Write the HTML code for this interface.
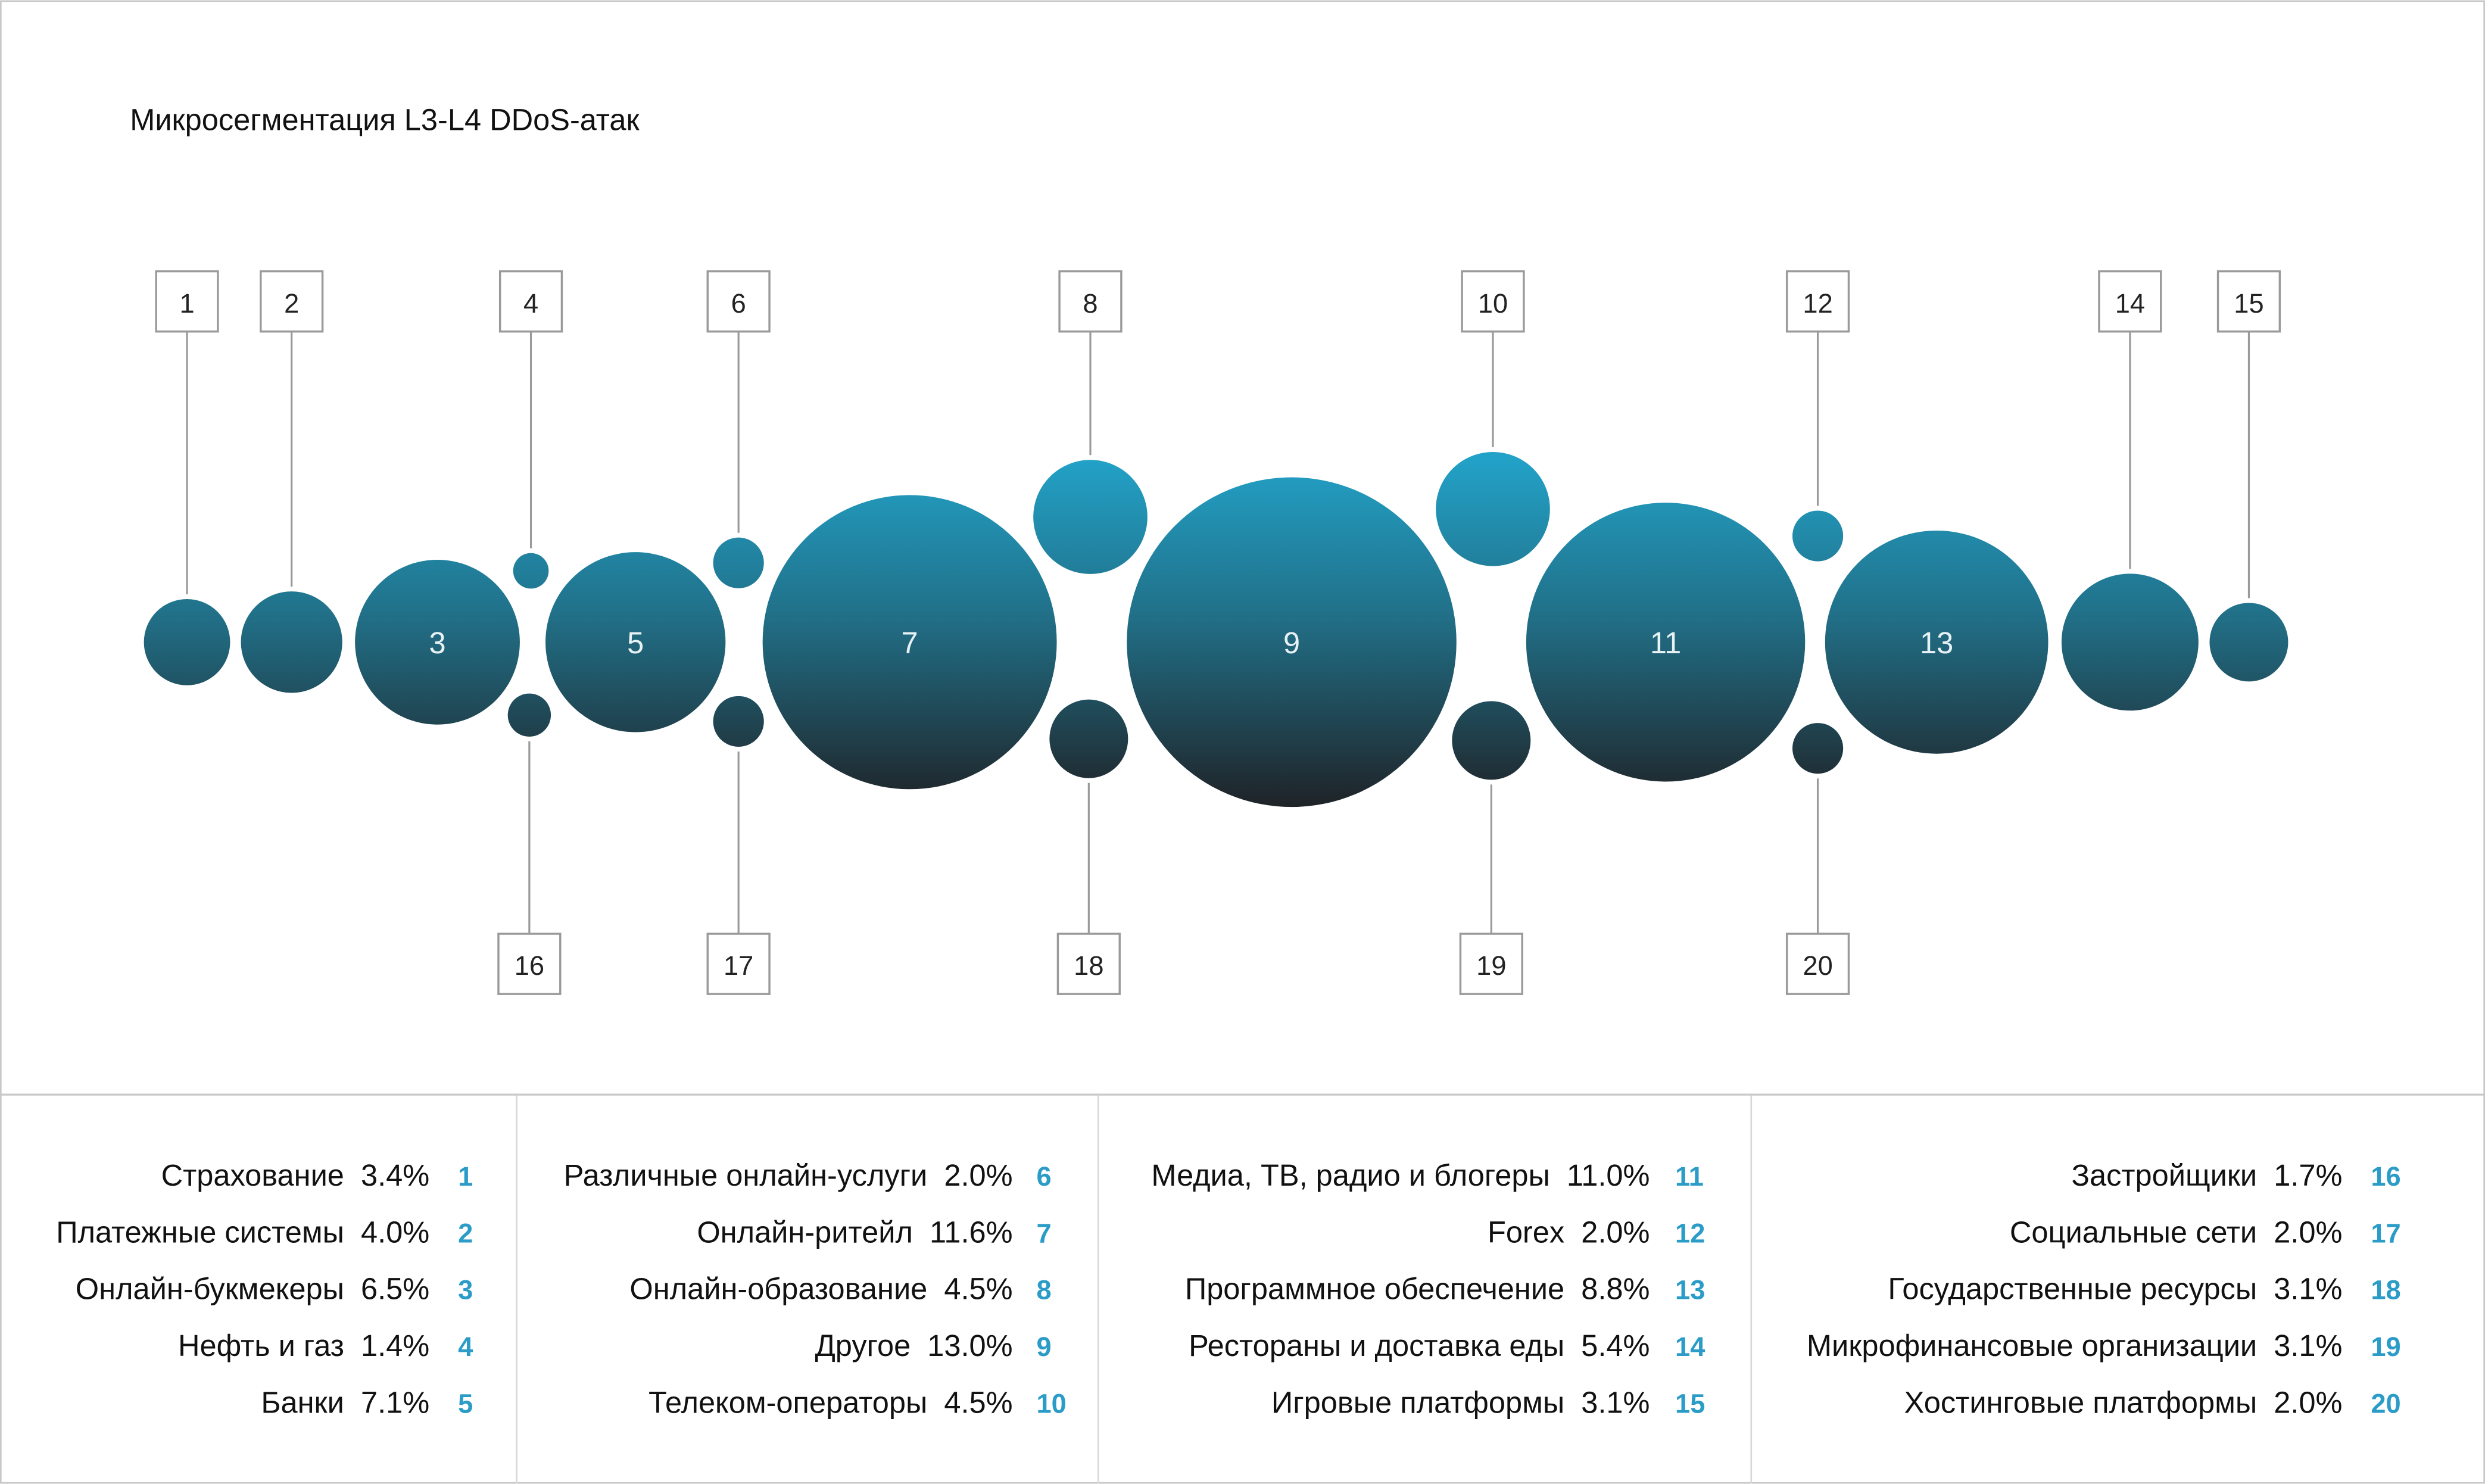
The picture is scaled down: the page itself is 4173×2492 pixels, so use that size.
<!DOCTYPE html>
<html><head><meta charset="utf-8"><style>
html,body{margin:0;padding:0;background:#fff}
svg{display:block}
text{font-family:"Liberation Sans",sans-serif}
</style></head><body>
<svg id="chart" width="4173" height="2492" viewBox="0 0 1568 936" xmlns="http://www.w3.org/2000/svg">
<defs>
<linearGradient id="bg" gradientUnits="userSpaceOnUse" x1="0" y1="288" x2="0" y2="510">
<stop offset="0" stop-color="#22a2c8"/>
<stop offset="0.45" stop-color="#217088"/>
<stop offset="1" stop-color="#1f2226"/>
</linearGradient>
</defs>
<rect x="0.5" y="0.5" width="1567" height="935" fill="#fff" stroke="#c8c8c8" stroke-width="1"/>
<line x1="0" y1="690.5" x2="1568" y2="690.5" stroke="#c8c8c8" stroke-width="1.2"/>
<line x1="326" y1="691" x2="326" y2="936" stroke="#d8d8d8"/>
<line x1="693" y1="691" x2="693" y2="936" stroke="#d8d8d8"/>
<line x1="1105" y1="691" x2="1105" y2="936" stroke="#d8d8d8"/>
<text x="82" y="82" font-size="19" fill="#111">Микросегментация L3-L4 DDoS-атак</text>
<g id="marks"></g>
<g id="legend"></g>
</svg>
<script>
const ids = [1,2,3,4,5,6,7,8,9,10,11,12,13,14,15,16,17,18,19,20];
const names = ["Страхование","Платежные системы","Онлайн-букмекеры","Нефть и газ","Банки","Различные онлайн-услуги","Онлайн-ритейл","Онлайн-образование","Другое","Телеком-операторы","Медиа, ТВ, радио и блогеры","Forex","Программное обеспечение","Рестораны и доставка еды","Игровые платформы","Застройщики","Социальные сети","Государственные ресурсы","Микрофинансовые организации","Хостинговые платформы"];
const values = [3.4,4.0,6.5,1.4,7.1,2.0,11.6,4.5,13.0,4.5,11.0,2.0,8.8,5.4,3.1,1.7,2.0,3.1,3.1,2.0];
// layout (not data): bubble centers and label placement
const cx = [118,184,276,335,401,466,574,688,815,942,1051,1147,1222,1344,1419,334,466,687,941,1147];
const cy = [405,405,405,360,405,355,405,326,405,321,405,338,405,405,405,451,455,466,467,472];
const labelPos = ["top","top","in","top","in","top","in","top","in","top","in","top","in","top","top","bottom","bottom","bottom","bottom","bottom"];

const NS = "http://www.w3.org/2000/svg";
const rScale = v => v * 8;
const marks = document.getElementById('marks');
function mk(tag, attrs, parent){const e=document.createElementNS(NS,tag);for(const k in attrs)e.setAttribute(k,attrs[k]);parent.appendChild(e);return e;}

ids.forEach((id,i)=>{
  const r = rScale(values[i]);
  const c = mk('circle',{cx:cx[i],cy:cy[i],r:r,fill:'url(#bg)'},marks);
  
  
  if(labelPos[i]==='in'){
    const t = mk('text',{x:cx[i],y:cy[i]+7,'text-anchor':'middle','font-size':19,fill:'#e8f2f5'},marks);
    t.textContent = id;
    
    
  } else {
    const top = labelPos[i]==='top';
    const by = top ? 171 : 589;
    const box = mk('rect',{x:cx[i]-19.5,y:by,width:39,height:38,fill:'#fff',stroke:'#9a9a9a','stroke-width':1.3},marks);
    
    
    const y1 = top ? by+38 : cy[i]+r+3;
    const y2 = top ? cy[i]-r-3 : by;
    const ln = mk('line',{x1:cx[i],x2:cx[i],y1:y1,y2:y2,stroke:'#9a9a9a','stroke-width':1.2},marks);
    
    
    const t = mk('text',{x:cx[i],y:by+26,'text-anchor':'middle','font-size':17,fill:'#222'},marks);
    t.textContent = id;
    
    
  }
});

const legend = document.getElementById('legend');
const colRight = [271,639,1041,1478];
const colNum = [289,654,1057,1496];
ids.forEach((id,i)=>{
  const col = Math.floor(i/5), row = i%5;
  const y = 748 + row*35.8;
  const t = mk('text',{x:colRight[col],y:y,'text-anchor':'end','font-size':19,fill:'#111'},legend);
  t.textContent = names[i] + '\u00a0 ' + values[i].toFixed(1) + '%';
  
  
  const n = mk('text',{x:colNum[col],y:y,'font-size':17,'font-weight':'bold',fill:'#2b9cc7'},legend);
  n.textContent = id;
  
  
});
</script>
</body></html>
